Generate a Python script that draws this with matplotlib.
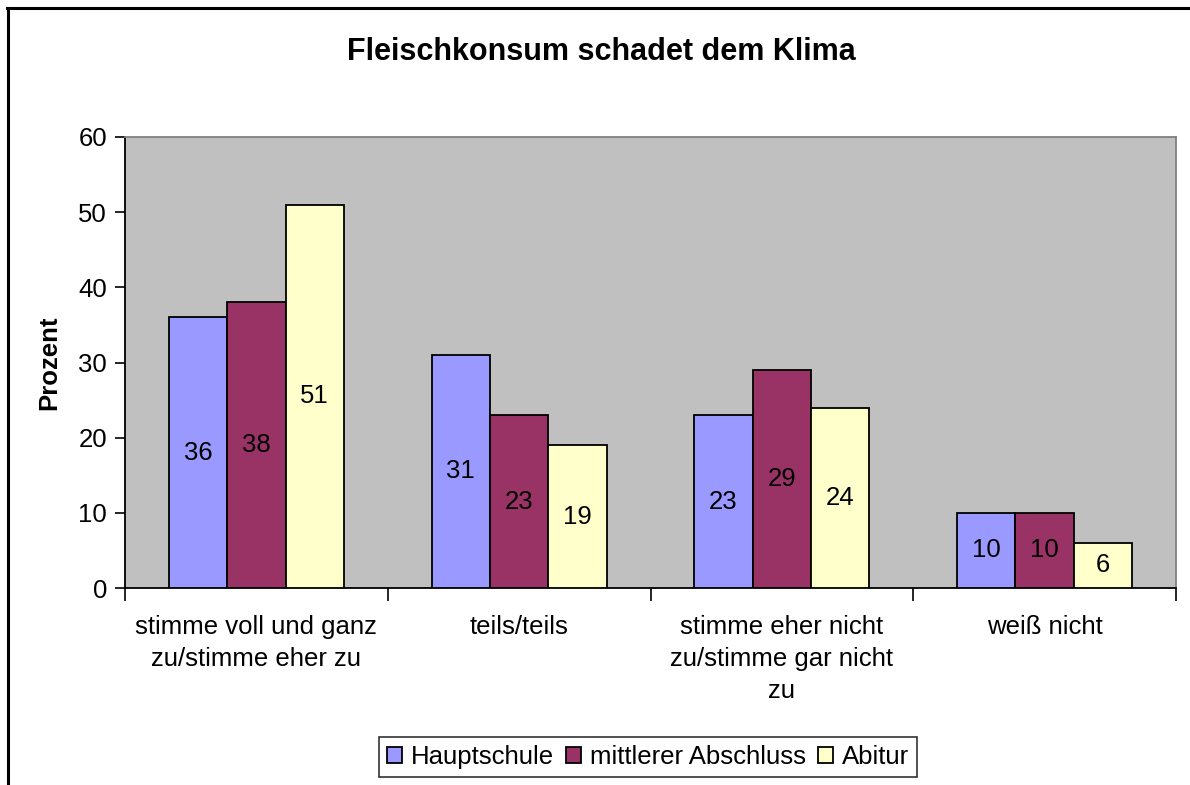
import matplotlib.pyplot as plt
import numpy as np

plt.rcParams['font.family'] = ['Liberation Sans', 'DejaVu Sans']

categories = ["stimme voll und ganz\nzu/stimme eher zu", "teils/teils",
              "stimme eher nicht\nzu/stimme gar nicht\nzu", "weiß nicht"]
series_names = ["Hauptschule", "mittlerer Abschluss", "Abitur"]
hauptschule = [36, 31, 23, 10]
mittlerer = [38, 23, 29, 10]
abitur = [51, 19, 24, 6]
colors = ["#9999FF", "#993366", "#FFFFCC"]
yticks = [0, 10, 20, 30, 40, 50, 60]

W, H = 1190, 785
fig = plt.figure(figsize=(W / 100, H / 100), dpi=100)

# outer frame (top and left edges)
fig.add_artist(plt.Line2D([8 / W, 8 / W], [0, 1 - 8 / H], color='black', lw=2.2, transform=fig.transFigure))
fig.add_artist(plt.Line2D([7 / W, 1], [1 - 8 / H, 1 - 8 / H], color='black', lw=2.2, transform=fig.transFigure))

left, right, top, bottom = 125, 1176, 137, 588
ax = fig.add_axes([left / W, 1 - bottom / H, (right - left) / W, (bottom - top) / H])
ax.set_facecolor('#C0C0C0')

FS = 18.5
x = np.arange(len(categories))
bw = 1 / 4.5
for i, (vals, col) in enumerate(zip([hauptschule, mittlerer, abitur], colors)):
    pos = x + (i - 1) * bw
    bars = ax.bar(pos, vals, width=bw, color=col, edgecolor='black', linewidth=1.3,
                  label=series_names[i], zorder=3)
    for b, v in zip(bars, vals):
        ax.text(b.get_x() + b.get_width() / 2, v / 2, str(v), ha='center', va='center',
                fontsize=FS, color='black', zorder=4)

ax.set_xlim(-0.5, len(categories) - 0.5)
ax.set_ylim(0, 60)
ax.set_yticks(yticks)
ax.set_yticklabels([str(t) for t in yticks], fontsize=FS)
ax.tick_params(axis='y', direction='out', length=7, width=1.2, pad=6)

# category tick marks at group boundaries
ax.set_xticks(np.arange(-0.5, len(categories) + 0.5, 1))
ax.set_xticklabels([])
ax.tick_params(axis='x', direction='out', length=9, width=1.2)
for xi, lab in zip(x, categories):
    ax.text(xi, -3.55, lab, ha='center', va='top', fontsize=FS, linespacing=1.43)

for s in ['left', 'bottom']:
    ax.spines[s].set_color('black')
    ax.spines[s].set_linewidth(1.3)
for s in ['top', 'right']:
    ax.spines[s].set_color('#808080')
    ax.spines[s].set_linewidth(1.3)

ax.set_ylabel('Prozent', fontsize=FS, fontweight='bold', labelpad=12)

fig.text(601 / W, 1 - 52 / H, 'Fleischkonsum schadet dem Klima', ha='center', va='center',
         fontsize=22, fontweight='bold')

leg = fig.legend(loc='center', bbox_to_anchor=(648 / W, 1 - 757 / H), ncol=3, fontsize=FS,
                 frameon=True, fancybox=False, edgecolor='black', handlelength=0.6,
                 handleheight=0.6, handletextpad=0.35, columnspacing=0.45, borderpad=0.3,
                 borderaxespad=0)
leg.get_frame().set_linewidth(1.2)

fig.savefig('out.png', dpi=100, facecolor='white')
